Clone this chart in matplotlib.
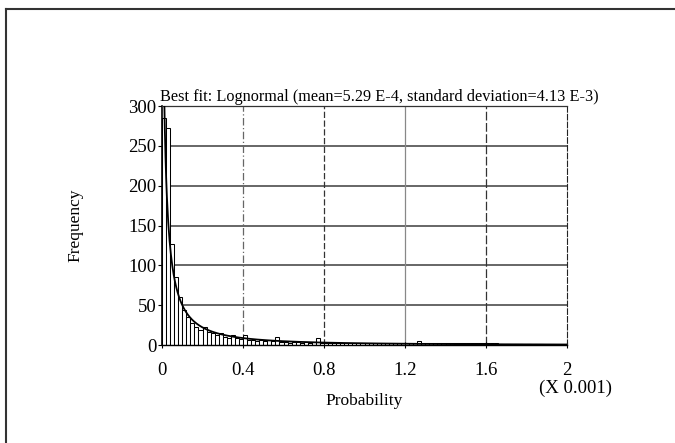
import numpy as np
import matplotlib.pyplot as plt
from matplotlib.lines import Line2D

# Histogram of probabilities, bins of 0.02 (x 0.001) from 0 to 2
bin_width = 0.02
counts = [285, 272, 127, 85, 60, 44, 35, 27, 23, 19,
          23, 16, 15, 12, 15, 10, 9, 12, 9, 8,
          12, 6, 6, 5, 6, 5, 6, 5, 10, 4,
          4, 3, 4, 4, 3, 4, 3, 4, 9, 3,
          2, 3, 2, 2, 3, 2, 2, 2, 2, 2,
          2, 2, 2, 2, 2, 2, 2, 2, 2, 2,
          2, 2, 2, 5, 2, 2, 2, 2, 2, 2,
          2, 2, 2, 2, 2, 2, 2, 2, 2, 2,
          2, 3, 2, 1, 0, 1, 0, 1, 1, 0,
          1, 0, 1, 1, 0, 0, 0, 0, 0, 0]

# Fitted lognormal (values in probability units)
fit_mean = 5.29e-4
fit_sd = 4.13e-3
n_samples = 1300

x_ticks = [0, 0.4, 0.8, 1.2, 1.6, 2]
x_ticklabels = ["0", "0.4", "0.8", "1.2", "1.6", "2"]
y_ticks = [0, 50, 100, 150, 200, 250, 300]

plt.rcParams['font.family'] = ['Liberation Serif', 'DejaVu Serif']

fig = plt.figure(figsize=(6.75, 4.43), dpi=100)
ax = fig.add_axes([0.240, 0.2212, 0.600, 0.5395])

# grid
for y in y_ticks[1:-1]:
    ax.axhline(y, color='#5a5a5a', lw=1.3, zorder=0)
vgrid_styles = {0.4: ('#666666', (0, (6, 2, 1, 2))),
                0.8: ('#333333', (0, (5, 2))),
                1.2: ('#888888', '-'),
                1.6: ('#333333', (0, (7, 2)))}
for x in x_ticks[1:-1]:
    c, ls = vgrid_styles[x]
    ax.axvline(x, color=c, lw=0.9, ls=ls, zorder=0)

# bars
edges = np.arange(len(counts)) * bin_width
ax.bar(edges, counts, width=bin_width, align='edge', facecolor='white',
       edgecolor='black', linewidth=0.75, zorder=2)

# lognormal curve scaled to frequency per bin
sigma2 = np.log(1 + (fit_sd / fit_mean) ** 2)
sigma = np.sqrt(sigma2)
mu = np.log(fit_mean) - sigma2 / 2
xs = np.linspace(0.004, 2.0, 600)
xp = xs * 1e-3
pdf = np.exp(-(np.log(xp) - mu) ** 2 / (2 * sigma2)) / (xp * sigma * np.sqrt(2 * np.pi))
ax.plot(xs, pdf * n_samples * bin_width * 1e-3, color='black', lw=1.3, zorder=3)

ax.set_xlim(0, 2)
ax.set_ylim(0, 300)
ax.set_xticks(x_ticks)
ax.set_xticklabels(x_ticklabels)
ax.set_yticks(y_ticks)
ax.tick_params(axis='both', labelsize=13.5, length=3, width=0.8, colors='black')
ax.tick_params(axis='x', direction='inout', pad=10, length=5)
ax.tick_params(axis='y', direction='out', pad=1)

ax.spines['left'].set_linewidth(1.2)
ax.spines['bottom'].set_linewidth(1.0)
ax.spines['top'].set_linewidth(0.9)
ax.spines['top'].set_color('#333333')
ax.spines['right'].set_linestyle((0, (5, 2)))
ax.spines['right'].set_color('#222222')

ax.set_xlabel("Probability", fontsize=12.5, labelpad=10)
ax.set_ylabel("Frequency", fontsize=12.5, labelpad=32)
ax.text(-0.005, 1.005, "Best fit: Lognormal (mean=5.29 E-4, standard deviation=4.13 E-3)",
        transform=ax.transAxes, ha='left', va='bottom', fontsize=11.7)
fig.text(0.852, 0.114, "(X 0.001)", fontsize=13.5, ha='center', va='baseline')

# outer frame: top and left edges
fig.add_artist(Line2D([0.009, 1.0], [0.98, 0.98], color='#333333', lw=1.5,
                      transform=fig.transFigure))
fig.add_artist(Line2D([0.009, 0.009], [0.0, 0.98], color='#333333', lw=1.5,
                      transform=fig.transFigure))

fig.savefig("out.png", dpi=100)
